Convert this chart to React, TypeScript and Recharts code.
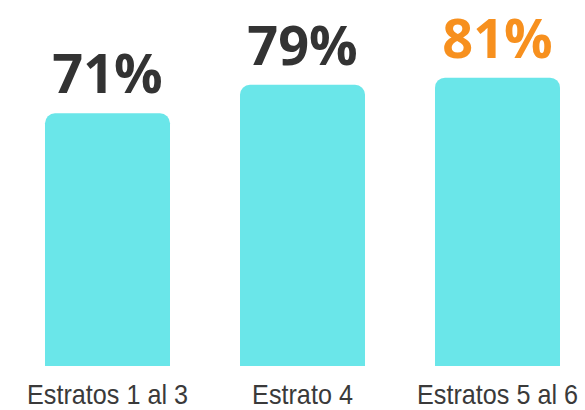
import { BarChart, Bar, XAxis, YAxis, Cell, LabelList } from "recharts";

const categories = ["Estratos 1 al 3", "Estrato 4", "Estratos 5 al 6"];
const shares = [71, 79, 81];
const labelColors = ["#333333", "#333333", "#f7901e"];

const data = categories.map((name, i) => ({ name, value: shares[i] }));

const BAR_COLOR = "#6ae6e9";

// value label drawn above each bar, coloured per category
function ValueLabel(props: any) {
  const { x = 0, y = 0, width = 0, index = 0, value } = props;
  return (
    <text
      x={x + width / 2}
      y={y - 20}
      textAnchor="middle"
      fill={labelColors[index]}
      fontFamily="'Open Sans', sans-serif"
      fontWeight={700}
      fontSize={54}
    >
      {`${value}%`}
    </text>
  );
}

// narrow category label: Liberation Sans squeezed horizontally
function CategoryTick(props: any) {
  const { x = 0, y = 0, payload } = props;
  return (
    <g transform={`translate(${x},${y}) scale(0.9,1)`}>
      <text
        x={0}
        y={0}
        dy={30}
        textAnchor="middle"
        fill="#3a3a3a"
        fontSize={28}
        fontFamily="'Liberation Sans', Arial, sans-serif"
      >
        {payload.value}
      </text>
    </g>
  );
}

export default function App() {
  return (
    <div
      style={{
        position: "absolute",
        left: 0,
        top: 0,
        width: 585,
        height: 410,
        overflow: "hidden",
        background: "#fff",
      }}
    >
      <BarChart
        width={595}
        height={410}
        data={data}
        margin={{ top: 10, right: 0, left: 10, bottom: 0 }}
        barSize={125}
      >
        <YAxis hide domain={[0, 100]} />
        <XAxis
          dataKey="name"
          axisLine={false}
          tickLine={false}
          interval={0}
          height={44}
          tick={<CategoryTick />}
        />
        <Bar dataKey="value" radius={[10, 10, 0, 0]} isAnimationActive={false}>
          {data.map((_, i) => (
            <Cell key={`cell-${i}`} fill={BAR_COLOR} />
          ))}
          <LabelList dataKey="value" content={ValueLabel} />
        </Bar>
      </BarChart>
    </div>
  );
}
